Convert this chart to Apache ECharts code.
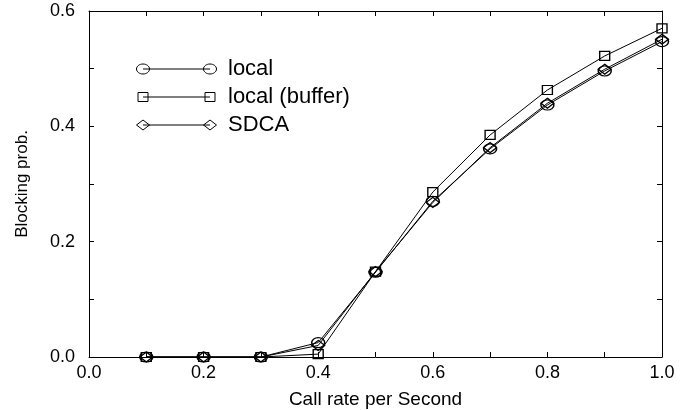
<!DOCTYPE html>
<html>
<head>
<meta charset="utf-8">
<script src="https://cdn.jsdelivr.net/npm/echarts@6/dist/echarts.min.js"></script>
<style>
	html, body { margin: 0; padding: 0; background: #fff; }
	#main { width: 697px; height: 410px; }
</style>
</head>
<body>
<div id="main"></div>
<script>
	// call rate per second
	var callRate = [0.1, 0.2, 0.3, 0.4, 0.5, 0.6, 0.7, 0.8, 0.9, 1.0];
	// blocking prob.
	var localVals = [0, 0, 0, 0.025, 0.147, 0.270, 0.361, 0.437, 0.496, 0.547];
	var bufferVals = [0, 0, 0, 0.005, 0.148, 0.286, 0.385, 0.463, 0.522, 0.570];
	var sdcaVals = [0, 0, 0, 0.020, 0.148, 0.268, 0.363, 0.440, 0.499, 0.551];
	var seriesNames = ['local', 'local (buffer)', 'SDCA'];
	var seriesSymbols = ['circle', 'rect', 'diamond'];
	var symbolSizes = [[13, 10], [10, 9], [13, 10]];

	function pairs(vals) {
		var out = [];
		for (var i = 0; i < callRate.length; i++) {
			out.push([callRate[i], vals[i]]);
		}
		return out;
	}

	var font = 'Liberation Sans, Arial, sans-serif';
	var black = '#000';

	function tickFmt(v) {
		var n = Math.round(v * 10);
		return n % 2 === 0 ? v.toFixed(1) : '';
	}

	var axisBase = {
		type: 'value',
		min: 0,
		interval: 0.1,
		axisLine: { show: true, onZero: false, lineStyle: { color: black, width: 1 } },
		axisTick: { show: true, inside: true, length: 5, lineStyle: { color: black } },
		splitLine: { show: false }
	};

	var chart = echarts.init(document.getElementById('main'));

	// 图例 (circle-line-circle style as in the figure)
	var legendGraphics = [];
	var legendY = [69, 97, 125];
	for (var k = 0; k < 3; k++) {
		var y = legendY[k];
		legendGraphics.push({
			type: 'line',
			shape: { x1: 143, y1: y, x2: 210, y2: y },
			style: { stroke: black, lineWidth: 1 }
		});
		[143, 210].forEach(function(x) {
			var s = symbolSizes[k];
			if (k === 0) {
				legendGraphics.push({ type: 'ellipse', shape: { cx: x, cy: y, rx: s[0] / 2, ry: s[1] / 2 }, style: { fill: 'none', stroke: black, lineWidth: 1 } });
			} else if (k === 1) {
				legendGraphics.push({ type: 'rect', shape: { x: x - s[0] / 2, y: y - s[1] / 2, width: s[0], height: s[1] }, style: { fill: 'none', stroke: black, lineWidth: 1 } });
			} else {
				legendGraphics.push({ type: 'polygon', shape: { points: [[x - s[0] / 2, y], [x, y - s[1] / 2], [x + s[0] / 2, y], [x, y + s[1] / 2]] }, style: { fill: 'none', stroke: black, lineWidth: 1 } });
			}
		});
		legendGraphics.push({
			type: 'text',
			x: 228,
			y: y,
			style: { text: seriesNames[k], font: '22px ' + font, fill: black, textVerticalAlign: 'middle' }
		});
	}

	var allVals = [localVals, bufferVals, sdcaVals];
	var series = [];
	for (var j = 0; j < 3; j++) {
		series.push({
			name: seriesNames[j],
			type: 'line',
			xAxisIndex: 0,
			yAxisIndex: 0,
			data: pairs(allVals[j]),
			symbol: seriesSymbols[j],
			symbolSize: symbolSizes[j],
			showAllSymbol: true,
			lineStyle: { color: black, width: 1 },
			itemStyle: { color: 'rgba(0,0,0,0)', borderColor: black, borderWidth: 1.3 },
			animation: false,
			z: 3 + j
		});
	}

	var option = {
		animation: false,
		backgroundColor: '#fff',
		grid: { left: 89, top: 11, right: 35, bottom: 53, containLabel: false, outerBoundsMode: 'none' },
		xAxis: [
			Object.assign({}, axisBase, {
				max: 1.0,
				position: 'bottom',
				name: 'Call rate per Second',
				nameLocation: 'middle',
				nameGap: 33,
				nameTextStyle: { color: black, fontSize: 19, fontFamily: font },
				axisLabel: { color: black, fontSize: 18, fontFamily: font, margin: 7, formatter: tickFmt, showMinLabel: true, showMaxLabel: true }
			}),
			Object.assign({}, axisBase, {
				max: 1.0,
				position: 'top',
				axisLabel: { show: false }
			})
		],
		yAxis: [
			Object.assign({}, axisBase, {
				max: 0.6,
				position: 'left',
				name: 'Blocking prob.',
				nameLocation: 'middle',
				nameGap: 58,
				nameTextStyle: { color: black, fontSize: 17, fontFamily: font },
				axisLabel: { color: black, fontSize: 18, fontFamily: font, margin: 14, formatter: tickFmt }
			}),
			Object.assign({}, axisBase, {
				max: 0.6,
				position: 'right',
				axisLabel: { show: false }
			})
		],
		graphic: legendGraphics,
		series: series
	};

	chart.setOption(option);
</script>
</body>
</html>
